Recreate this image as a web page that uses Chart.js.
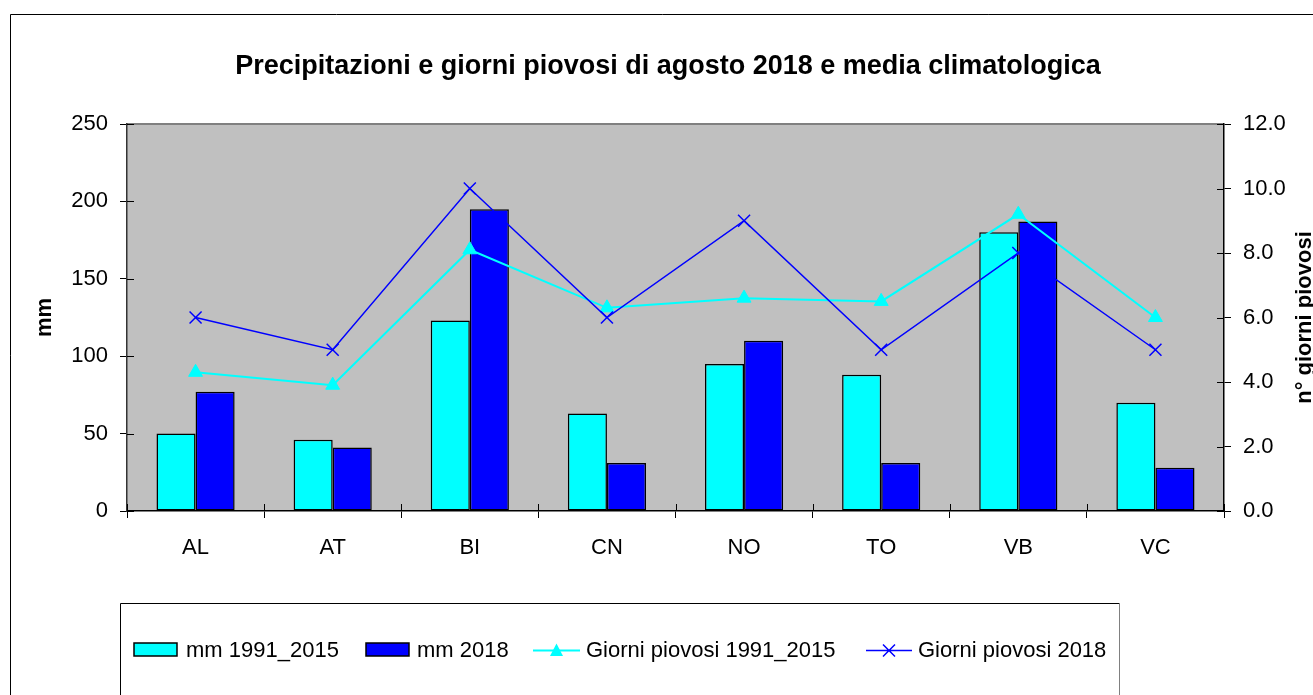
<!DOCTYPE html>
<html><head><meta charset="utf-8">
<script src="https://cdn.jsdelivr.net/npm/chart.js@4/dist/chart.umd.min.js"></script>
<style>html,body{margin:0;padding:0;background:#fff;overflow:hidden}#wrap{width:1313px;height:695px;position:relative}</style>
</head><body><div id="wrap"><canvas id="c" width="1313" height="695"></canvas></div>
<script>
const categories = ['AL','AT','BI','CN','NO','TO','VB','VC'];
const mm19912015 = [50, 46, 123, 63, 95, 88, 180, 70];
const mm2018 = [77, 41, 195, 31, 110, 31, 187, 28];
const giorni19912015 = [4.3, 3.9, 8.1, 6.3, 6.6, 6.5, 9.2, 6.0];
const giorni2018 = [6, 5, 10, 6, 9, 5, 8, 5];
const mmTicks = [0, 50, 100, 150, 200, 250];
const giorniTicks = [0, 2, 4, 6, 8, 10, 12];
const seriesNames = ['mm 1991_2015', 'mm 2018', 'Giorni piovosi 1991_2015', 'Giorni piovosi 2018'];
const chartTitle = 'Precipitazioni e giorni piovosi di agosto 2018 e media climatologica';
const leftTitle = 'mm';
const rightTitle = 'n° giorni piovosi';

const FONT = "'Liberation Sans', Arial, Helvetica, sans-serif";
const CYAN = '#00FFFF', BLUE = '#0000FF';

const decor = {
  id: 'decor',
  beforeDraw(chart) {
    const ctx = chart.ctx, a = chart.chartArea;
    ctx.save();
    ctx.fillStyle = '#fff';
    ctx.fillRect(0, 0, chart.width, chart.height);
    ctx.fillStyle = '#C0C0C0';
    ctx.fillRect(a.left, a.top, a.right - a.left, a.bottom - a.top);
    ctx.strokeStyle = '#808080'; ctx.lineWidth = 2;
    ctx.beginPath(); ctx.moveTo(a.left, a.top); ctx.lineTo(a.right, a.top); ctx.stroke();
    ctx.restore();
  },
  afterDraw(chart) {
    const ctx = chart.ctx, a = chart.chartArea;
    ctx.save();
    // inner tick parts
    ctx.strokeStyle = '#000'; ctx.lineWidth = 1;
    const sy = chart.scales.y, sy1 = chart.scales.y1, sx = chart.scales.x;
    ctx.beginPath();
    mmTicks.forEach(v => { const p = Math.round(sy.getPixelForValue(v)) + 0.5; ctx.moveTo(a.left, p); ctx.lineTo(a.left + 7, p); });
    giorniTicks.forEach(v => { const p = Math.round(sy1.getPixelForValue(v)) + 0.5; ctx.moveTo(a.right - 7, p); ctx.lineTo(a.right, p); });
    for (let i = 0; i <= categories.length; i++) {
      const p = Math.round(sx.getPixelForValue(i - 0.5)) + 0.5;
      ctx.moveTo(p, a.bottom - 7); ctx.lineTo(p, a.bottom);
    }
    ctx.stroke();
    // outer border
    ctx.strokeStyle = '#000'; ctx.lineWidth = 1;
    ctx.beginPath(); ctx.moveTo(10.5, chart.height + 5); ctx.lineTo(10.5, 14.5); ctx.lineTo(chart.width + 5, 14.5); ctx.stroke();
    // title
    ctx.fillStyle = '#000';
    ctx.font = 'bold 27px ' + FONT;
    ctx.textAlign = 'center'; ctx.textBaseline = 'alphabetic';
    ctx.fillText(chartTitle, 668, 74);
    // axis titles
    ctx.textBaseline = 'middle';
    ctx.font = 'bold 22px ' + FONT;
    ctx.save(); ctx.translate(45, (a.top + a.bottom) / 2); ctx.rotate(-Math.PI / 2); ctx.fillText(leftTitle, 0, 0); ctx.restore();
    ctx.save(); ctx.translate(1305, (a.top + a.bottom) / 2); ctx.rotate(-Math.PI / 2); ctx.fillText(rightTitle, 0, 0); ctx.restore();
    // legend box
    ctx.lineWidth = 1;
    ctx.strokeStyle = '#000';
    ctx.beginPath(); ctx.moveTo(120.5, chart.height + 5); ctx.lineTo(120.5, 603.5); ctx.lineTo(1119.5, 603.5); ctx.stroke();
    ctx.strokeStyle = '#808080';
    ctx.beginPath(); ctx.moveTo(1119.5, 603.5); ctx.lineTo(1119.5, chart.height + 5); ctx.stroke();
    const ly = 650.5;
    ctx.font = '22px ' + FONT; ctx.textAlign = 'left'; ctx.textBaseline = 'middle';
    // item 1
    ctx.fillStyle = CYAN; ctx.fillRect(134, 643, 43, 13);
    ctx.strokeStyle = '#000'; ctx.lineWidth = 1.5; ctx.strokeRect(134, 643, 43, 13);
    ctx.fillStyle = '#000'; ctx.fillText(seriesNames[0], 186, ly);
    // item 2
    ctx.fillStyle = BLUE; ctx.fillRect(366, 643, 43, 13);
    ctx.strokeRect(366, 643, 43, 13);
    ctx.fillStyle = '#000'; ctx.fillText(seriesNames[1], 417, ly);
    // item 3
    ctx.strokeStyle = CYAN; ctx.lineWidth = 2;
    ctx.beginPath(); ctx.moveTo(533, ly); ctx.lineTo(580, ly); ctx.stroke();
    ctx.fillStyle = CYAN; ctx.beginPath();
    ctx.moveTo(556.5, ly - 7); ctx.lineTo(563, ly + 5.5); ctx.lineTo(550, ly + 5.5); ctx.closePath(); ctx.fill();
    ctx.fillStyle = '#000'; ctx.fillText(seriesNames[2], 586, ly);
    // item 4
    ctx.strokeStyle = BLUE; ctx.lineWidth = 1.5;
    ctx.beginPath(); ctx.moveTo(866, ly); ctx.lineTo(912, ly);
    ctx.moveTo(883, ly - 6); ctx.lineTo(895, ly + 6); ctx.moveTo(895, ly - 6); ctx.lineTo(883, ly + 6); ctx.stroke();
    ctx.fillStyle = '#000'; ctx.fillText(seriesNames[3], 918, ly);
    ctx.restore();
  }
};

const tickFont = { family: FONT, size: 22 };
const gridCfg = { display: true, drawOnChartArea: false, drawTicks: true, tickLength: 7, color: '#000', lineWidth: 1 };

new Chart(document.getElementById('c'), {
  type: 'bar',
  data: {
    labels: categories,
    datasets: [
      { type: 'line', label: seriesNames[3], data: giorni2018, yAxisID: 'y1', order: 0,
        borderColor: BLUE, backgroundColor: BLUE, borderWidth: 1.5, pointStyle: 'crossRot', pointRadius: 8.5, pointBorderWidth: 1.5, tension: 0 },
      { type: 'line', label: seriesNames[2], data: giorni19912015, yAxisID: 'y1', order: 1,
        borderColor: CYAN, backgroundColor: CYAN, borderWidth: 2, pointStyle: 'triangle', pointRadius: 8, pointBorderWidth: 1, tension: 0 },
      { label: seriesNames[0], data: mm19912015, yAxisID: 'y', order: 2,
        backgroundColor: CYAN, borderColor: '#000', borderWidth: 1.5, borderSkipped: false, categoryPercentage: 0.57, barPercentage: 1.0 },
      { label: seriesNames[1], data: mm2018, yAxisID: 'y', order: 3,
        backgroundColor: BLUE, borderColor: '#000', borderWidth: 1.5, borderSkipped: false, categoryPercentage: 0.57, barPercentage: 1.0 }
    ]
  },
  options: {
    responsive: false, animation: false, devicePixelRatio: 1,
    layout: { padding: { top: 124, left: 0, right: 0, bottom: 0 } },
    plugins: { legend: { display: false }, title: { display: false }, tooltip: { enabled: false } },
    scales: {
      x: {
        offset: true,
        grid: Object.assign({}, gridCfg, { offset: true }),
        border: { display: true, color: '#000', width: 1.5 },
        ticks: { font: tickFont, color: '#000', padding: 17, maxRotation: 0, autoSkip: false },
        afterFit: s => { s.height = 184; }
      },
      y: {
        position: 'left', min: 0, max: 250,
        grid: gridCfg,
        border: { display: true, color: '#333', width: 1.5 },
        ticks: { font: tickFont, color: '#000', padding: 12, stepSize: 50 },
        afterBuildTicks: s => { s.ticks = mmTicks.map(v => ({ value: v })); },
        afterFit: s => { s.width = 127; }
      },
      y1: {
        position: 'right', min: 0, max: 12,
        grid: gridCfg,
        border: { display: true, color: '#000', width: 1.5 },
        ticks: { font: tickFont, color: '#000', padding: 12, stepSize: 2, callback: v => Number(v).toFixed(1) },
        afterBuildTicks: s => { s.ticks = giorniTicks.map(v => ({ value: v })); },
        afterFit: s => { s.width = 89; }
      }
    }
  },
  plugins: [decor]
});
</script>
</body></html>
